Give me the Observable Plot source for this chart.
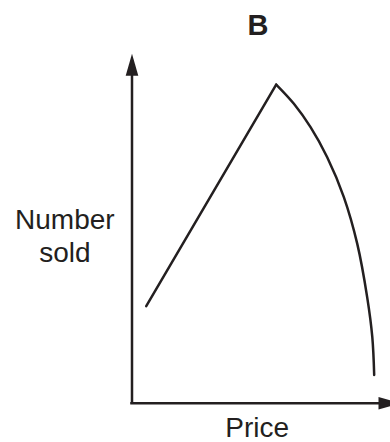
<!DOCTYPE html>
<html><head><meta charset="utf-8">
<script src="https://cdn.jsdelivr.net/npm/d3@7"></script>
<script src="https://cdn.jsdelivr.net/npm/@observablehq/plot@0.6"></script>
<style>body{margin:0;background:#fff}</style>
</head><body><div id="chart"></div>
<script>
// Rising (straight) part of the curve
const risePrice = [5.3, 53.7];
const riseSold = [27.8, 91.2];
// Falling (curved) part of the curve
const fallPrice = [53.7, 60.3, 66.5, 72.7, 78.9, 83.9, 87.6, 89.5, 90.2];
const fallSold = [91.2, 85.7, 79.0, 70.4, 59.0, 45.6, 30.3, 18.9, 8.1];
// Labels
const titleText = "B";
const xLabel = "Price";
const yLabel = "Number\nsold";

const ink = "#231f20";
const font = "'Liberation Sans', Arial, Helvetica, sans-serif";

const rise = risePrice.map((p, i) => ({price: p, sold: riseSold[i]}));
const fall = fallPrice.map((p, i) => ({price: p, sold: fallSold[i]}));

const arrowHead = {
  draw(ctx) {
    ctx.moveTo(0, 0);
    ctx.lineTo(6.3, 22);
    ctx.lineTo(-6.3, 22);
    ctx.closePath();
  }
};

const chart = Plot.plot({
  width: 390,
  height: 442,
  style: {fontFamily: font, background: "#fff"},
  x: {domain: [0, 100], range: [131.5, 400], axis: null},
  y: {domain: [0, 100], range: [402.7, 53.3], axis: null},
  marks: [
    Plot.ruleX([0], {y1: 0, y2: 96, stroke: ink, strokeWidth: 2.5, strokeLinecap: "square"}),
    Plot.ruleY([0], {x1: 0, x2: 96, stroke: ink, strokeWidth: 2.5, strokeLinecap: "square"}),
    Plot.dot([{price: 0, sold: 100}], {x: "price", y: "sold", symbol: arrowHead, fill: ink, stroke: null, rotate: 0}),
    Plot.dot([{price: 100, sold: 0}], {x: "price", y: "sold", symbol: arrowHead, fill: ink, stroke: null, rotate: 90}),
    Plot.line(rise, {x: "price", y: "sold", stroke: ink, strokeWidth: 2.5}),
    Plot.line(fall, {x: "price", y: "sold", stroke: ink, strokeWidth: 2.5, curve: "catmull-rom"}),
    Plot.text([titleText], {x: 46.9, y: 107.9, text: d => d, fontSize: 29, fontWeight: "bold", fill: ink}),
    Plot.text([xLabel], {x: 46.6, y: -7.2, text: d => d, fontSize: 28, fill: ink}),
    Plot.text([yLabel], {x: -25.0, y: 48.1, text: d => d, fontSize: 28, lineHeight: 1.18, fill: ink})
  ]
});
document.getElementById("chart").appendChild(chart);
</script>
</body></html>
